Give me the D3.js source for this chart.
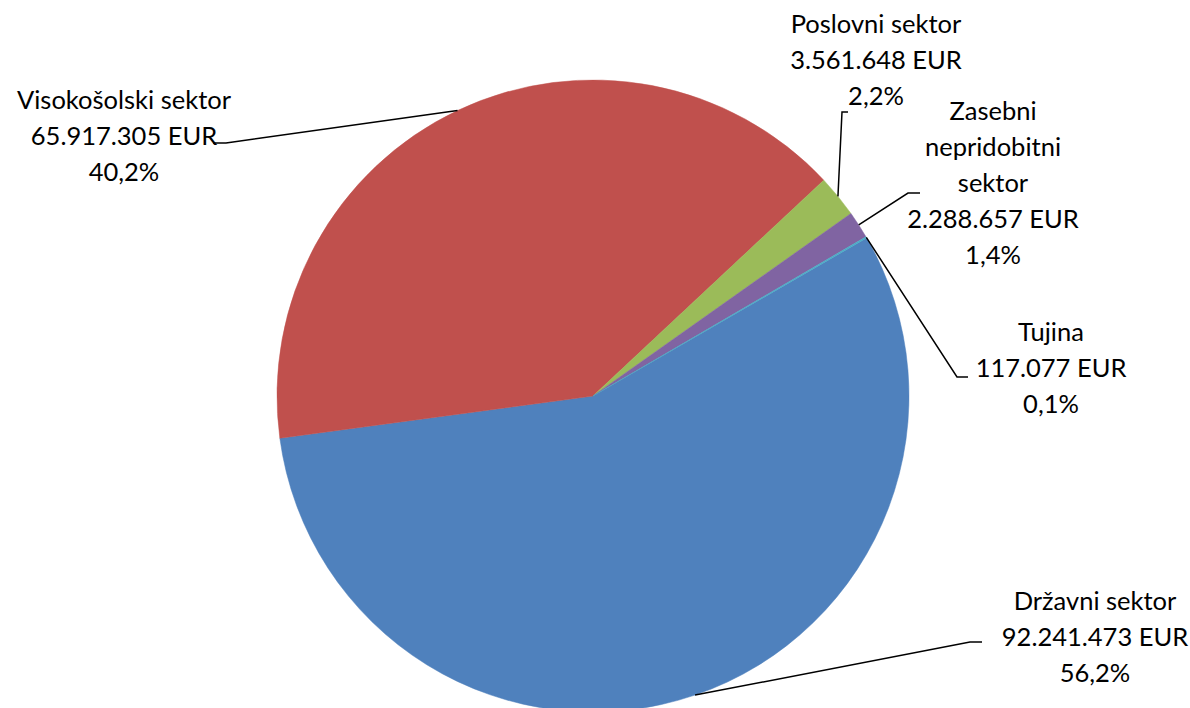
<!DOCTYPE html>
<html>
<head>
<meta charset="utf-8">
<script src="https://cdn.jsdelivr.net/npm/d3@7"></script>
<style>
  html, body { margin: 0; padding: 0; background: #fff; }
  svg { display: block; }
  .lbl { font-family: "Lato", "Liberation Sans", sans-serif; font-size: 25.5px; fill: #000; }
</style>
</head>
<body>
<svg id="chart" width="1190" height="708"></svg>
<script>
// data
const sectors = ['Državni sektor', 'Visokošolski sektor', 'Poslovni sektor', 'Zasebni nepridobitni sektor', 'Tujina'];
const amounts = [92241473, 65917305, 3561648, 2288657, 117077];
const shares = ['56,2%', '40,2%', '2,2%', '1,4%', '0,1%'];
const amountLabels = ['92.241.473 EUR', '65.917.305 EUR', '3.561.648 EUR', '2.288.657 EUR', '117.077 EUR'];
const labelLines = [
    ['Državni sektor'],
    ['Visokošolski sektor'],
    ['Poslovni sektor'],
    ['Zasebni', 'nepridobitni', 'sektor'],
    ['Tujina']
];
const colors = ['#4f81bd', '#c0504d', '#9bbb59', '#8064a2', '#4bacc6'];

const svg = d3.select('#chart');
const cx = 593, cy = 396, radius = 316;
const deg = d => d * Math.PI / 180;

// where each label sits: text centre, first baseline, and the leader elbow/tail
const layout = [
    {x: 1095, y: 610, elbow: [970, 642], tail: [982, 642]},
    {x: 124, y: 109, elbow: [226, 143], tail: [213, 143]},
    {x: 876, y: 33, elbow: [842, 112], tail: [848, 112]},
    {x: 993, y: 120, elbow: [908, 193], tail: [920, 193]},
    {x: 1051, y: 341, elbow: [957, 377], tail: [968, 377]}
];

const rows = sectors.map((s, i) => ({name: s, value: amounts[i], i}));

const pie = d3.pie()
    .value(d => d.value)
    .sort(null)
    .startAngle(deg(60))
    .endAngle(deg(420));

const arcs = pie(rows);
const arcGen = d3.arc().innerRadius(0).outerRadius(radius);

const g = svg.append('g').attr('transform', `translate(${cx},${cy})`);

g.selectAll('path.slice')
    .data(arcs)
    .enter()
    .append('path')
    .attr('class', 'slice')
    .attr('d', arcGen)
    .attr('fill', d => colors[d.data.i])
    .attr('stroke', d => colors[d.data.i])
    .attr('stroke-width', 0.5);

// leader lines start on the rim at the slice's middle angle
const rimPoint = d => {
    const a = (d.startAngle + d.endAngle) / 2;
    return [cx + Math.sin(a) * radius, cy - Math.cos(a) * radius];
};

svg.append('g')
    .selectAll('polyline')
    .data(arcs)
    .enter()
    .append('polyline')
    .attr('points', d => {
        const L = layout[d.data.i];
        return [rimPoint(d), L.elbow, L.tail].map(p => p.join(',')).join(' ');
    })
    .attr('fill', 'none')
    .attr('stroke', '#000')
    .attr('stroke-width', 1.5);

const lineH = 36;
const texts = svg.append('g')
    .selectAll('text')
    .data(arcs)
    .enter()
    .append('text')
    .attr('class', 'lbl')
    .attr('text-anchor', 'middle')
    .attr('x', d => layout[d.data.i].x)
    .attr('y', d => layout[d.data.i].y);

texts.each(function(d) {
    const i = d.data.i;
    const lines = labelLines[i].concat([amountLabels[i], shares[i]]);
    const t = d3.select(this);
    lines.forEach((ln, k) => {
        t.append('tspan')
            .attr('x', layout[i].x)
            .attr('dy', k === 0 ? 0 : lineH)
            .text(ln);
    });
});
</script>
</body>
</html>
